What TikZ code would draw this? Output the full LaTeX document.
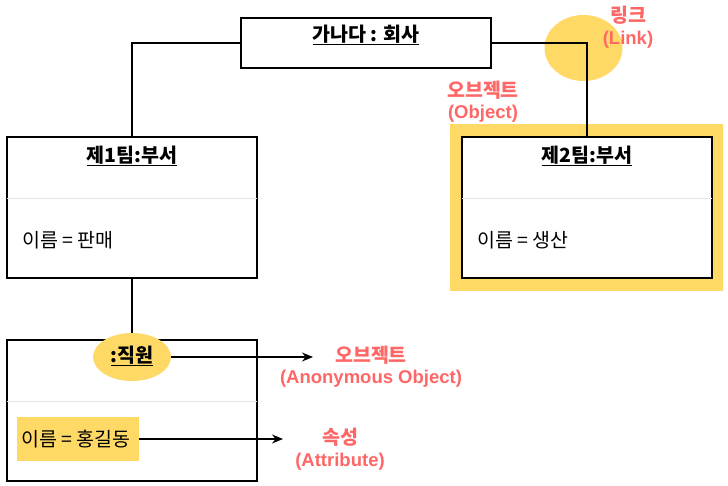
\documentclass[tikz,border=0pt]{standalone}
\usepackage{fontspec}
\setmainfont{Noto Sans CJK KR}
\newfontfamily\latinfont{Liberation Sans}
\usetikzlibrary{arrows.meta,shapes.geometric}
\definecolor{hl}{HTML}{FFD966}
\definecolor{redtxt}{HTML}{FF6666}
\definecolor{sep}{HTML}{E6E6E6}
\tikzset{
  objbox/.style={draw=black, line width=1.3pt, fill=white, minimum width=250pt, inner sep=0pt},
  conn/.style={draw=black, line width=1.2pt},
  arr/.style={conn, -{Stealth[length=11pt,width=9pt]}},
  ttl/.style={font=\fontsize{19.5}{22}\selectfont\bfseries, inner sep=0pt},
  attr/.style={font=\fontsize{19.5}{22}\selectfont, inner sep=0pt, anchor=west},
  note/.style={font=\fontsize{19.5}{22}\selectfont\bfseries, text=redtxt, inner sep=0pt, align=center},
  notel/.style={font=\latinfont\fontsize{18.5}{21}\selectfont\bfseries, text=redtxt, inner sep=0pt, align=center},
  seprule/.style={draw=sep, line width=1pt}
}
\begin{document}
\begin{tikzpicture}[x=1pt,y=-1pt]
\useasboundingbox (0,0) rectangle (728,486);
% highlights under connectors
\node[fill=hl, draw=none, ellipse, minimum width=78pt, minimum height=66pt, inner sep=0pt] (linkhl) at (583.5,48) {};
\node[fill=hl, draw=none, minimum width=273pt, minimum height=167pt, inner sep=0pt] (objhl) at (586.5,207.5) {};
% boxes
\node[objbox, minimum height=50pt] (co) at (366,43) {};
\node[ttl] (cot) at (366,35) {\underline{가나다 : 회사}};
\node[objbox, minimum height=141pt] (d1) at (132,207.5) {};
\node[ttl] (d1t) at (132,156) {\underline{제1팀:부서}};
\draw[seprule] ([xshift=0.7pt]d1.west |- 0,199) coordinate (s1a) -- ([xshift=-0.7pt]d1.east |- 0,199) coordinate (s1b);
\node[attr] (d1a) at (22,240) {이름 = 판매};
\node[objbox, minimum height=141pt] (d2) at (587,207.5) {};
\node[ttl] (d2t) at (587,156) {\underline{제2팀:부서}};
\draw[seprule] ([xshift=0.7pt]d2.west |- 0,199) coordinate (s2a) -- ([xshift=-0.7pt]d2.east |- 0,199) coordinate (s2b);
\node[attr] (d2a) at (477,240) {이름 = 생산};
\node[objbox, minimum height=141pt] (emp) at (132,410.5) {};
\draw[seprule] ([xshift=0.7pt]emp.west |- 0,401) coordinate (s3a) -- ([xshift=-0.7pt]emp.east |- 0,401) coordinate (s3b);
\node[fill=hl, draw=none, minimum width=122pt, minimum height=44pt, inner sep=0pt] (attrhl) at (78,439) {};
\node[attr] (empa) at (21,439) {이름 = 홍길동};
% connectors
\draw[conn] (co.west) -| (d1.north);
\draw[conn] (co.east) -| (d2.north);
\draw[conn] (d1.south) -- (emp.north);
\node[fill=hl, draw=none, ellipse, minimum width=78pt, minimum height=48pt, inner sep=0pt] (anon) at (132,357) {};
\node[ttl] (anont) at (132,356) {\underline{:직원}};
\coordinate (anonend) at (313,357);
\coordinate (attrend) at (283,439);
\draw[arr] (anon.east) -- (anonend);
\draw[arr] (attrhl.east) -- (attrend);
% notes
\node[note] (nlink) at (628,15) {링크};
\node[notel] (nlink2) at (628,40) {(Link)};
\node[note] (nobj) at (483,90) {오브젝트};
\node[notel] (nobj2) at (483,114) {(Object)};
\node[note] (nanon) at (371,355) {오브젝트};
\node[notel] (nanon2) at (371,379) {(Anonymous Object)};
\node[note] (nattr) at (340,437) {속성};
\node[notel] (nattr2) at (340,462) {(Attribute)};
\end{tikzpicture}
\end{document}
